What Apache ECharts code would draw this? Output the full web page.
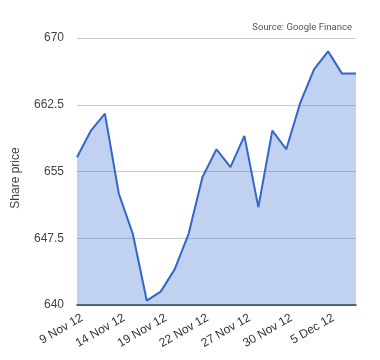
<!DOCTYPE html>
<html>
<head>
<meta charset="utf-8">
<script src="https://cdn.jsdelivr.net/npm/echarts@6/dist/echarts.min.js"></script>
<style>html,body{margin:0;padding:0;background:#fff;}#c{width:380px;height:360px;}</style>
</head>
<body>
<div id="c"></div>
<script>
const dates = ['9 Nov 12','12 Nov 12','13 Nov 12','14 Nov 12','15 Nov 12','16 Nov 12','19 Nov 12','20 Nov 12','21 Nov 12','22 Nov 12','23 Nov 12','26 Nov 12','27 Nov 12','28 Nov 12','29 Nov 12','30 Nov 12','3 Dec 12','4 Dec 12','5 Dec 12','6 Dec 12','7 Dec 12'];
const prices = [656.6, 659.6, 661.5, 652.5, 648.0, 640.5, 641.5, 644.0, 648.0, 654.4, 657.5, 655.5, 659.0, 651.0, 659.6, 657.5, 662.7, 666.5, 668.5, 666.0, 666.0];
const yTicks = [640, 647.5, 655, 662.5, 670];
const yTitle = 'Share price';
const sourceNote = 'Source: Google Finance';

const chart = echarts.init(document.getElementById('c'), null, {renderer:'canvas'});
chart.setOption({
  animation: false,
  backgroundColor: '#fff',
  textStyle: {fontFamily: 'Liberation Sans, Arial, sans-serif'},
  graphic: [{
    type: 'text', right: 28, top: 23,
    style: {text: sourceNote, font: '9.5px Roboto, sans-serif', fill: '#555'}
  }, {
    type: 'text', x: 16, y: 178, rotation: Math.PI / 2,
    style: {text: yTitle, font: '12px "Liberation Sans", Arial, sans-serif', fill: '#444', align: 'center', verticalAlign: 'middle'}
  }],
  grid: {left: 77, right: 24, top: 38, bottom: 55},
  xAxis: {
    type: 'category', data: dates, boundaryGap: false,
    axisLine: {lineStyle: {color: '#333', width: 1.5}},
    axisTick: {show: false},
    axisLabel: {interval: 2, rotate: 30, color: '#333', fontSize: 12, margin: 15, padding: [0, -6, 0, 0]}
  },
  yAxis: {
    type: 'value', min: yTicks[0], max: yTicks[yTicks.length-1], interval: 7.5,
    axisLine: {show: false}, axisTick: {show: false},
    axisLabel: {color: '#444', fontSize: 12, margin: 13},
    splitLine: {lineStyle: {color: '#ccc'}}
  },
  series: [{
    type: 'line', data: prices, symbol: 'none',
    lineStyle: {color: '#3366cc', width: 2},
    areaStyle: {color: '#3366cc', opacity: 0.3}
  }]
});
</script>
</body>
</html>
